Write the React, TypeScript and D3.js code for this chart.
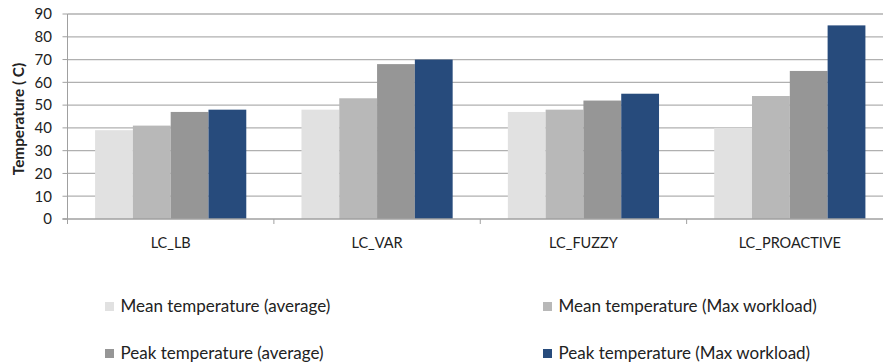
import React from "react";
import * as d3 from "d3";

const categories = ["LC_LB", "LC_VAR", "LC_FUZZY", "LC_PROACTIVE"];
const seriesNames = [
  "Mean temperature (average)",
  "Mean temperature (Max workload)",
  "Peak temperature (average)",
  "Peak temperature (Max workload)",
];
const meanAvg = [39, 48, 47, 40];
const meanMax = [41, 53, 48, 54];
const peakAvg = [47, 68, 52, 65];
const peakMax = [48, 70, 55, 85];
const seriesValues = [meanAvg, meanMax, peakAvg, peakMax];
const colors = ["#e1e1e1", "#b8b8b8", "#969696", "#274b7c"];
const yTicks = [0, 10, 20, 30, 40, 50, 60, 70, 80, 90];
const yTitle = "Temperature ( C)";

const W = 883;
const H = 362;
const left = 67.5;
const right = 893;
const top = 14;
const bottom = 219;
const font = "Lato, 'Open Sans', sans-serif";

export default function App() {
  const x = d3.scaleBand<string>().domain(categories).range([left, right]);
  const inner = d3
    .scaleBand<number>()
    .domain(d3.range(seriesNames.length))
    .range([0, x.bandwidth()])
    .paddingInner(0)
    .paddingOuter(0.73);
  const y = d3.scaleLinear().domain([0, 90]).range([bottom, top]);

  const legendPos = [
    [105, 302],
    [543, 302],
    [105, 349],
    [543, 349],
  ];

  return (
    <svg
      width={W}
      height={H}
      style={{ position: "absolute", left: 0, top: 0, background: "#fff" }}
      fontFamily={font}
    >
      {yTicks.map((t) => (
        <g key={t}>
          {t > 0 && (
            <line x1={left} x2={W} y1={y(t)} y2={y(t)} stroke="#b0b0b0" strokeWidth={1.3} />
          )}
          <line x1={left - 5} x2={left} y1={y(t)} y2={y(t)} stroke="#a0a0a0" strokeWidth={1} />
          <text x={52} y={y(t) + 5.3} textAnchor="end" fontSize={15} fill="#222">
            {t}
          </text>
        </g>
      ))}
      {seriesValues.map((vals, si) =>
        vals.map((v, ci) => (
          <rect
            key={`${si}-${ci}`}
            x={(x(categories[ci]) as number) + (inner(si) as number)}
            width={inner.bandwidth()}
            y={y(v)}
            height={y(0) - y(v)}
            fill={colors[si]}
          />
        ))
      )}
      <line x1={left} x2={left} y1={top} y2={bottom + 5} stroke="#a0a0a0" strokeWidth={1} />
      <line x1={left - 5} x2={W} y1={bottom} y2={bottom} stroke="#a0a0a0" strokeWidth={1.3} />
      {categories.map((c) => (
        <line
          key={c}
          x1={(x(c) as number) + x.bandwidth()}
          x2={(x(c) as number) + x.bandwidth()}
          y1={bottom}
          y2={bottom + 5}
          stroke="#a0a0a0"
        />
      ))}
      {categories.map((c) => (
        <text
          key={c}
          x={(x(c) as number) + x.bandwidth() / 2}
          y={248}
          textAnchor="middle"
          fontSize={14.5}
          fill="#222"
        >
          {c}
        </text>
      ))}
      <text
        transform={`translate(23.5,119) rotate(-90)`}
        textAnchor="middle"
        fontSize={15.3}
        fontWeight="bold"
        fill="#222"
      >
        {yTitle}
      </text>
      {seriesNames.map((s, i) => (
        <g key={s}>
          <rect x={legendPos[i][0]} y={legendPos[i][1]} width={9} height={9} fill={colors[i]} />
          <text x={legendPos[i][0] + 15.5} y={legendPos[i][1] + 10} fontSize={17} fill="#222">
            {s}
          </text>
        </g>
      ))}
    </svg>
  );
}
